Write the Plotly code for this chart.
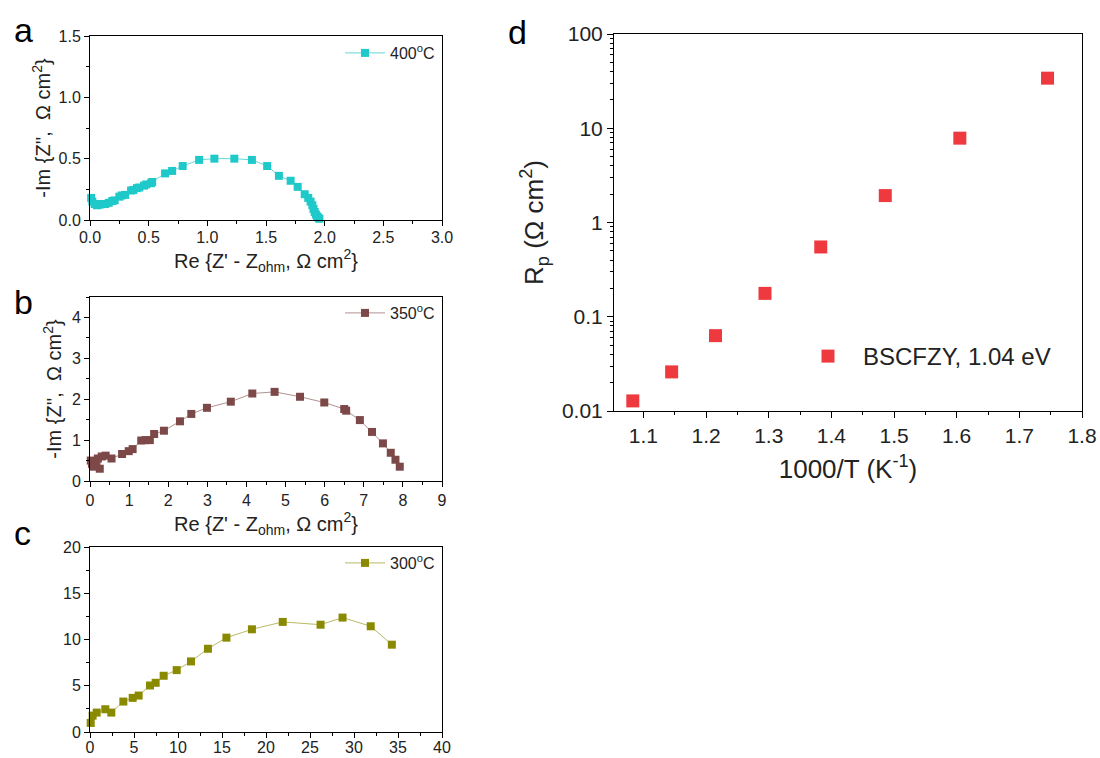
import plotly.graph_objects as go

# ---------------- data ----------------
# panel a: 400 C Nyquist
a_x = [0.01, 0.02, 0.04, 0.06, 0.08, 0.10, 0.13, 0.16, 0.19, 0.21, 0.25, 0.27, 0.30, 0.35, 0.37,
       0.40, 0.42, 0.46, 0.48, 0.52, 0.53, 0.64, 0.70, 0.79, 0.93, 1.06, 1.23, 1.38, 1.51, 1.61,
       1.71, 1.77, 1.83, 1.86, 1.88, 1.895, 1.905, 1.915, 1.925, 1.935, 1.945, 1.955]
a_y = [0.18, 0.15, 0.13, 0.12, 0.125, 0.13, 0.13, 0.14, 0.155, 0.16, 0.19, 0.20, 0.205, 0.24, 0.245,
       0.26, 0.265, 0.28, 0.29, 0.30, 0.31, 0.38, 0.40, 0.44, 0.49, 0.50, 0.50, 0.49, 0.44, 0.36,
       0.32, 0.27, 0.21, 0.18, 0.15, 0.12, 0.09, 0.065, 0.045, 0.03, 0.02, 0.01]

# panel b: 350 C Nyquist
b_x = [0.02, 0.05, 0.10, 0.15, 0.20, 0.25, 0.30, 0.40, 0.55, 0.82, 0.99, 1.09, 1.31, 1.42, 1.53,
       1.64, 1.89, 2.30, 2.59, 2.99, 3.60, 4.15, 4.72, 5.37, 5.99, 6.50, 6.55, 6.90, 7.21, 7.49,
       7.69, 7.81, 7.92]
b_y = [0.50, 0.42, 0.35, 0.45, 0.55, 0.30, 0.60, 0.62, 0.55, 0.66, 0.73, 0.78, 0.99, 1.00, 1.00,
       1.15, 1.23, 1.46, 1.64, 1.79, 1.94, 2.14, 2.18, 2.06, 1.92, 1.76, 1.72, 1.49, 1.20, 0.92,
       0.69, 0.52, 0.35]

# panel c: 300 C Nyquist
c_x = [0.08, 0.3, 0.76, 1.74, 2.42, 3.79, 4.85, 5.53, 6.82, 7.46, 8.37, 9.85, 11.48, 13.4, 15.5,
       18.4, 21.9, 26.2, 28.7, 31.9, 34.3]
c_y = [0.98, 1.77, 2.1, 2.46, 2.1, 3.29, 3.69, 3.94, 5.03, 5.32, 6.08, 6.69, 7.63, 9.0, 10.2,
       11.1, 11.9, 11.6, 12.37, 11.43, 9.44]

# panel d: Arrhenius plot of Rp
d_x = [1.083, 1.145, 1.215, 1.294, 1.383, 1.486, 1.605, 1.745]
d_y = [0.0128, 0.026, 0.063, 0.177, 0.55, 1.93, 7.85, 34.0]

d_tickvals = [0.01, 0.1, 1, 10, 100]
d_ticktext = ["0.01", "0.1", "1", "10", "100"]

# ---------------- figure ----------------
W, H = 1100, 758
FONT = "Liberation Sans, Arial, sans-serif"

def px_x(p):
    return p / W

def px_y(p):
    return 1 - p / H

fig = go.Figure()

fig.add_trace(go.Scatter(x=a_x, y=a_y, mode="lines+markers", name="400<sup>o</sup>C",
                         marker=dict(symbol="square", size=8, color="#1FC9C9"),
                         line=dict(color="rgba(31,201,201,0.7)", width=1),
                         cliponaxis=False, xaxis="x", yaxis="y", legend="legend"))
fig.add_trace(go.Scatter(x=b_x, y=b_y, mode="lines+markers", name="350<sup>o</sup>C",
                         marker=dict(symbol="square", size=8, color="#7D4848"),
                         line=dict(color="rgba(125,72,72,0.6)", width=1),
                         cliponaxis=False, xaxis="x2", yaxis="y2", legend="legend2"))
fig.add_trace(go.Scatter(x=c_x, y=c_y, mode="lines+markers", name="300<sup>o</sup>C",
                         marker=dict(symbol="square", size=8, color="#8A8A00"),
                         line=dict(color="rgba(138,138,0,0.6)", width=1),
                         cliponaxis=False, xaxis="x3", yaxis="y3", legend="legend3"))
fig.add_trace(go.Scatter(x=d_x, y=d_y, mode="markers", name="BSCFZY, 1.04 eV",
                         marker=dict(symbol="square", size=13, color="#EE3A3E"),
                         cliponaxis=False, xaxis="x4", yaxis="y4", legend="legend4"))

def axis_style(**kw):
    base = dict(showline=True, linecolor="black", linewidth=1, mirror=True,
                ticks="outside", ticklen=5, tickcolor="black", tickwidth=1,
                showgrid=False, zeroline=False, automargin=False,
                tickfont=dict(family=FONT, size=16, color="#222"))
    base.update(kw)
    return base

minor = lambda d: dict(ticks="outside", ticklen=3, tickcolor="black", dtick=d, showgrid=False)

title_font = dict(family=FONT, size=20, color="#222")

fig.update_layout(
    width=W, height=H, margin=dict(l=0, r=0, t=0, b=0),
    plot_bgcolor="white", paper_bgcolor="white",
    font=dict(family=FONT, color="#222"),
    xaxis=axis_style(domain=[px_x(90), px_x(442)], range=[0, 3], dtick=0.5, tickformat=".1f",
                     minor=minor(0.25), anchor="y", ticklabelstandoff=-2,
                     title=dict(text="Re {Z' - Z<sub>ohm</sub>, Ω cm<sup>2</sup>}", font=title_font, standoff=4)),
    yaxis=axis_style(domain=[px_y(220), px_y(36)], range=[0, 1.5], dtick=0.5, tickformat=".1f",
                     minor=minor(0.25), anchor="x",
                     title=dict(text="-Im {Z'',  Ω cm<sup>2</sup>}", font=title_font, standoff=2)),
    xaxis2=axis_style(domain=[px_x(90), px_x(442)], range=[0, 9], dtick=1,
                      minor=minor(0.5), anchor="y2",
                      title=dict(text="Re {Z' - Z<sub>ohm</sub>, Ω cm<sup>2</sup>}", font=title_font, standoff=4)),
    yaxis2=axis_style(domain=[px_y(481), px_y(297)], range=[0, 4.5], dtick=1,
                      minor=minor(0.5), anchor="x2",
                      title=dict(text="-Im {Z'',  Ω cm<sup>2</sup>}", font=title_font, standoff=4)),
    xaxis3=axis_style(domain=[px_x(90), px_x(442)], range=[0, 40], dtick=5,
                      minor=minor(2.5), anchor="y3", ticklabelstandoff=-4),
    yaxis3=axis_style(domain=[px_y(732), px_y(547)], range=[0, 20], dtick=5,
                      minor=minor(2.5), anchor="x3"),
    xaxis4=axis_style(domain=[px_x(614), px_x(1082)], range=[1.053, 1.8], dtick=0.1, tickformat=".1f",
                      minor=minor(0.05), anchor="y4", ticklen=6,
                      tickfont=dict(family=FONT, size=21, color="#222"),
                      title=dict(text="1000/T (K<sup>-1</sup>)", font=dict(family=FONT, size=26, color="#222"), standoff=13)),
    yaxis4=axis_style(domain=[px_y(411), px_y(34)], type="log", range=[-2, 2],
                      tickvals=d_tickvals, ticktext=d_ticktext, anchor="x4", ticklen=6,
                      minor=dict(ticks="outside", ticklen=3, tickcolor="black", dtick="D1", showgrid=False),
                      tickfont=dict(family=FONT, size=21, color="#222"),
                      title=dict(text="R<sub>p</sub> (Ω cm<sup>2</sup>)", font=dict(family=FONT, size=26, color="#222"), standoff=10)),
    legend=dict(x=px_x(440), xanchor="right", y=px_y(36), yanchor="top", bgcolor="rgba(0,0,0,0)",
                font=dict(family=FONT, size=16, color="#222"), itemwidth=40),
    legend2=dict(x=px_x(440), xanchor="right", y=px_y(296), yanchor="top", bgcolor="rgba(0,0,0,0)",
                 font=dict(family=FONT, size=16, color="#222"), itemwidth=40),
    legend3=dict(x=px_x(440), xanchor="right", y=px_y(546), yanchor="top", bgcolor="rgba(0,0,0,0)",
                 font=dict(family=FONT, size=16, color="#222"), itemwidth=40),
    legend4=dict(x=px_x(793), xanchor="left", y=px_y(334), yanchor="top", bgcolor="rgba(0,0,0,0)",
                 font=dict(family=FONT, size=24, color="#222"), itemwidth=60),
    showlegend=True,
)

# panel letters
for letter, lx, ly in [("a", 12, 30), ("b", 12, 302), ("c", 12, 533), ("d", 506, 32)]:
    fig.add_annotation(text=letter, x=px_x(lx), y=px_y(ly), xref="paper", yref="paper",
                       xanchor="left", yanchor="middle", showarrow=False,
                       font=dict(family=FONT, size=34, color="black"))

# remove the default page margin so the 1100x758 figure fills the window exactly
fig.write_html("out.html", config={"displayModeBar": False},
               post_script="document.body.style.margin='0';document.body.style.overflow='hidden';")
